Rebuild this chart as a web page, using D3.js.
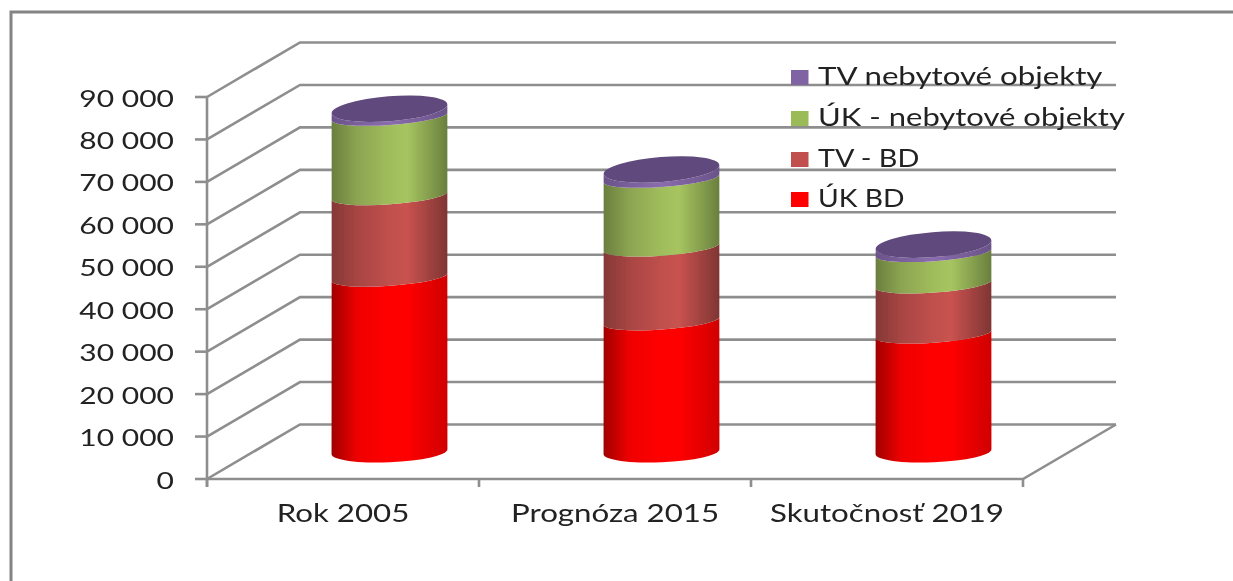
<!DOCTYPE html>
<html><head><meta charset="utf-8">
<script src="https://cdn.jsdelivr.net/npm/d3@7"></script>
<style>html,body{margin:0;padding:0;background:#fff}svg{display:block}text{font-family:Lato,sans-serif;fill:#222}</style>
</head><body><svg id="c" width="1233" height="581"></svg>
<script>
const categories = ["Rok 2005", "Prognóza 2015", "Skutočnosť 2019"];
const seriesNames = ["ÚK BD", "TV - BD", "ÚK - nebytové objekty", "TV nebytové objekty"];
const ukBD = [41100, 30800, 27700];
const tvBD = [19200, 17400, 11800];
const ukNeb = [18700, 16200, 7400];
const tvNeb = [1800, 2100, 1900];
const tickValues = [0, 10000, 20000, 30000, 40000, 50000, 60000, 70000, 80000, 90000];
const seriesValues = [ukBD, tvBD, ukNeb, tvNeb];
const legendColors = ["#ff0000", "#c0504d", "#9bbb59", "#8064a2"];
const gradStops = [
  ["#a00000", "#ee0000", "#ff0000", "#ff0000", "#d00000"],
  ["#853836", "#a84543", "#c0504d", "#c9524f", "#7f3533"],
  ["#6a7f3e", "#8ca452", "#a0bd5c", "#a6c560", "#6a7f3e"],
  ["#6a5389", "#7a5f9c", "#8a6dae", "#8064a2", "#6a5389"]
];
const stopOffsets = ["0%", "22%", "50%", "65%", "100%"];

const svg = d3.select("#c");
const defs = svg.append("defs");
defs.append("filter").attr("id", "soft").attr("x", "-2%").attr("y", "-2%").attr("width", "104%").attr("height", "104%")
  .append("feGaussianBlur").attr("stdDeviation", 0.5);
gradStops.forEach((st, i) => {
  const g = defs.append("linearGradient").attr("id", "g" + i);
  st.forEach((c, j) => g.append("stop").attr("offset", stopOffsets[j]).attr("stop-color", c));
});
const root = svg.append("g").attr("filter", "url(#soft)");

const dx = 93, dy = 54.5;
const y = d3.scaleLinear().domain([0, 90000]).range([479, 97]);
const x = d3.scaleBand().domain(categories).range([207, 1023]);
const gridC = "#8e8e8e";
const rightX = 1023;

// outer frame
root.append("path").attr("d", "M11,581V12H1233").attr("fill", "none").attr("stroke", "#848484").attr("stroke-width", 3);

// walls
const grid = root.append("g").attr("fill", "none").attr("stroke", gridC).attr("stroke-width", 2.6);
tickValues.forEach(v => {
  grid.append("path").attr("d", `M207,${y(v)}L${207 + dx},${y(v) - dy}H${rightX + dx}`);
  grid.append("line").attr("x1", 195).attr("x2", 207).attr("y1", y(v)).attr("y2", y(v));
});
grid.append("line").attr("x1", 207).attr("x2", 207).attr("y1", y(90000)).attr("y2", y(0) + 8);
grid.append("path").attr("d", `M207,${y(0)}H${rightX}L${rightX + dx},${y(0) - dy}`);
x.domain().concat([null]).forEach((c, i) => {
  const px = 207 + i * x.step();
  grid.append("line").attr("x1", px).attr("x2", px).attr("y1", y(0)).attr("y2", y(0) + 8);
});

// cylinders: flatter rims low down and between segments, rounder on the cap
const rx = 58;
const baseRim = {ry: 10.5, rot: -2.5}, midRim = {ry: 8.5, rot: -4}, capRim = {ry: 12.5, rot: -4.5};
const ends = r => {
  const t = r.rot * Math.PI / 180;
  return [rx * Math.cos(t), rx * Math.sin(t)];
};
categories.forEach((cat, i) => {
  const cx = x(cat) + x.bandwidth() / 2 + dx / 2;
  let acc = 0;
  seriesValues.forEach((arr, s) => {
    const yb = y(acc) - dy / 2;
    acc += arr[i];
    const yt = y(acc) - dy / 2;
    const rb = s === 0 ? baseRim : midRim;
    const [bx, by] = ends(rb);
    const isTop = s === seriesValues.length - 1;
    const rtop = isTop ? capRim : midRim;
    const [ux, uy] = ends(rtop);
    root.append("path")
      .attr("d", `M${cx - bx},${yb - by}A${rx},${rb.ry} ${rb.rot} 0 0 ${cx + bx},${yb + by}L${cx + ux},${yt + uy}A${rx},${rtop.ry} ${rtop.rot} 0 1 ${cx - ux},${yt - uy}Z`)
      .attr("fill", `url(#g${s})`);
    if (isTop) {
      root.append("ellipse").attr("cx", 0).attr("cy", 0).attr("rx", rx).attr("ry", capRim.ry)
        .attr("transform", `translate(${cx},${yt}) rotate(${capRim.rot})`)
        .attr("fill", "#604a7b");
    }
  });
});

// text helper: Calibri-like glyphs stretched horizontally
function label(px, py, str, size, sx, anchor) {
  root.append("text").attr("transform", `translate(${px},${py}) scale(${sx},1)`)
    .attr("text-anchor", anchor).attr("font-size", size).text(str);
}
const axFmt = v => d3.format(",")(v).replace(/,/g, " ");
tickValues.forEach(v => label(174, y(v) + 9.5, axFmt(v), 24, 1.25, "end"));
categories.forEach(c => label(x(c) + x.bandwidth() / 2, 522, c, 25, 1.25, "middle"));

// legend
const legendY = [85, 126, 167, 207];
const legendStretch = [1.25, 1.24, 1.15, 1.13];
[3, 2, 1, 0].forEach((s, k) => {
  root.append("rect").attr("x", 791).attr("y", legendY[k] - 15).attr("width", 17.5).attr("height", 15).attr("fill", legendColors[s]);
  label(818, legendY[k], seriesNames[s], 25, legendStretch[k], "start");
});
</script></body></html>
